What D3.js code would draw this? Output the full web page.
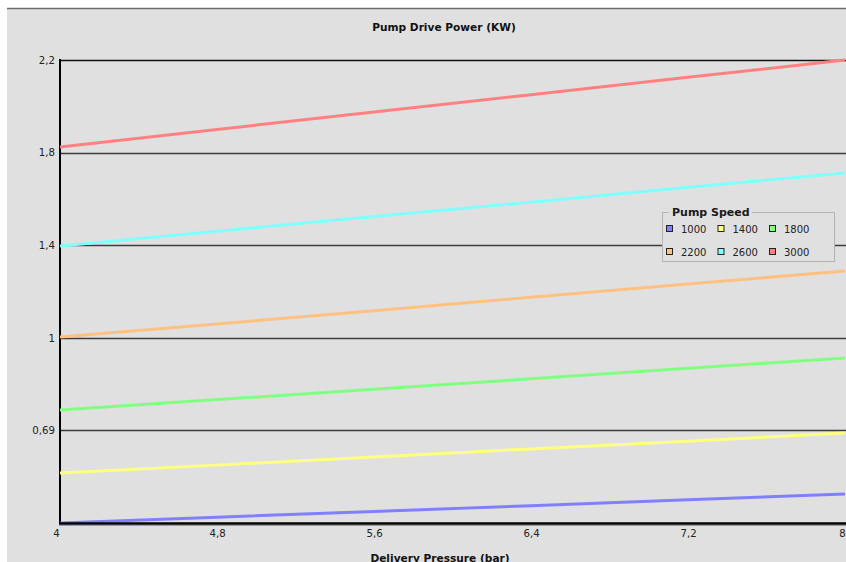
<!DOCTYPE html>
<html><head><meta charset="utf-8">
<script src="https://cdn.jsdelivr.net/npm/d3@7"></script>
<style>html,body{margin:0;padding:0;background:#fff;overflow:hidden}</style>
</head><body>
<svg id="c" width="846" height="562"></svg>
<script>
const pressures = [4, 4.8, 5.6, 6.4, 7.2, 8];
const xTickLabels = ["4", "4,8", "5,6", "6,4", "7,2", "8"];
const yTickValues = [0.2, 0.6, 1.0, 1.4, 1.8, 2.2];
const yTickLabels = ["", "0,69", "1", "1,4", "1,8", "2,2"];
const speeds = ["1000", "1400", "1800", "2200", "2600", "3000"];
const colors = ["#8080ff", "#ffff80", "#80ff80", "#ffc080", "#80ffff", "#ff8080"];
const s1000 = [0.200, 0.225, 0.250, 0.275, 0.300, 0.325];
const s1400 = [0.416, 0.450, 0.485, 0.520, 0.553, 0.589];
const s1800 = [0.688, 0.733, 0.778, 0.823, 0.868, 0.913];
const s2200 = [1.003, 1.060, 1.117, 1.175, 1.232, 1.289];
const s2600 = [1.397, 1.460, 1.524, 1.586, 1.650, 1.712];
const s3000 = [1.824, 1.900, 1.975, 2.050, 2.125, 2.200];
const seriesValues = [s1000, s1400, s1800, s2200, s2600, s3000];

const svg = d3.select("#c");
const font = "'DejaVu Sans', Verdana, sans-serif";
svg.append("rect").attr("x", 7).attr("y", 8).attr("width", 846).attr("height", 562).attr("fill", "#e0e0e0");
svg.append("line").attr("x1", 7).attr("x2", 846).attr("y1", 8.5).attr("y2", 8.5).attr("stroke", "#6e6e6e").attr("stroke-width", 1.5);

const x = d3.scaleLinear().domain([4, 8]).range([60, 845]);
const y = d3.scaleLinear().domain([0.2, 2.2]).range([523, 60]);

// gridlines
svg.append("g").selectAll("line").data(yTickValues.slice(1)).join("line")
  .attr("x1", 60).attr("x2", 846)
  .attr("y1", d => Math.round(y(d)) + 0.5).attr("y2", d => Math.round(y(d)) + 0.5)
  .attr("stroke", (d, i) => i === yTickValues.length - 2 ? "#111" : "#3c3c3c")
  .attr("stroke-width", 1.6);

// y axis
const yAxis = d3.axisLeft(y).tickValues(yTickValues).tickSize(0).tickPadding(5)
  .tickFormat((d, i) => yTickLabels[i]);
const gy = svg.append("g").attr("transform", "translate(60,0)").call(yAxis);
gy.select(".domain").remove();
gy.selectAll("text").attr("font-family", font).attr("font-size", 10.2).attr("fill", "#222");
svg.append("line").attr("x1", 60).attr("x2", 60).attr("y1", 59).attr("y2", 524).attr("stroke", "#000").attr("stroke-width", 2);

// x axis
const xAxis = d3.axisBottom(x).tickValues(pressures).tickSize(0).tickPadding(7)
  .tickFormat((d, i) => xTickLabels[i]);
const gx = svg.append("g").attr("transform", "translate(0,523)").call(xAxis);
gx.select(".domain").remove();
gx.selectAll("text").attr("font-family", font).attr("font-size", 10.2).attr("fill", "#222");
gx.selectAll(".tick").filter((d, i) => i === 0).select("text").attr("dx", -4);
gx.selectAll(".tick").filter((d, i) => i === pressures.length - 1).select("text").attr("dx", -3);

// series lines
const line = d3.line().x((d, i) => x(pressures[i])).y(d => y(d));
svg.append("g").selectAll("path").data(seriesValues).join("path")
  .attr("d", line).attr("fill", "none")
  .attr("stroke", (d, i) => colors[i]).attr("stroke-width", 3);

svg.append("line").attr("x1", 59).attr("x2", 846).attr("y1", 523.5).attr("y2", 523.5).attr("stroke", "#000").attr("stroke-width", 2.5);
svg.append("line").attr("x1", 59).attr("x2", 846).attr("y1", 525.5).attr("y2", 525.5).attr("stroke", "#9a9a9a").attr("stroke-width", 1);

// titles
svg.append("text").attr("x", 444).attr("y", 31).attr("text-anchor", "middle")
  .attr("font-family", font).attr("font-size", 10.6).attr("font-weight", "bold").attr("fill", "#111")
  .text("Pump Drive Power (KW)");
svg.append("text").attr("x", 440).attr("y", 562).attr("text-anchor", "middle")
  .attr("font-family", font).attr("font-size", 10.6).attr("font-weight", "bold").attr("fill", "#111")
  .text("Delivery Pressure (bar)");

// legend
const lg = svg.append("g");
lg.append("rect").attr("x", 662.5).attr("y", 212.5).attr("width", 172).attr("height", 49)
  .attr("fill", "#e0e0e0").attr("stroke", "#b4b4b4").attr("stroke-width", 1);
lg.append("rect").attr("x", 669).attr("y", 206).attr("width", 83).attr("height", 12).attr("fill", "#e0e0e0");
lg.append("text").attr("x", 672).attr("y", 216).attr("font-family", font).attr("font-size", 11)
  .attr("font-weight", "bold").attr("fill", "#1a1a1a").text("Pump Speed");
const items = lg.selectAll("g.it").data(speeds).join("g").attr("class", "it")
  .attr("transform", (d, i) => `translate(${666 + (i % 3) * 51.5},${229 + Math.floor(i / 3) * 23})`);
items.append("rect").attr("x", 0.5).attr("y", -3.5).attr("width", 6).attr("height", 6)
  .attr("fill", (d, i) => colors[i]).attr("stroke", "#222").attr("stroke-width", 1);
items.append("text").attr("x", 15).attr("y", 3.5).attr("font-family", font).attr("font-size", 10)
  .attr("fill", "#222").text(d => d);
</script>
</body></html>
